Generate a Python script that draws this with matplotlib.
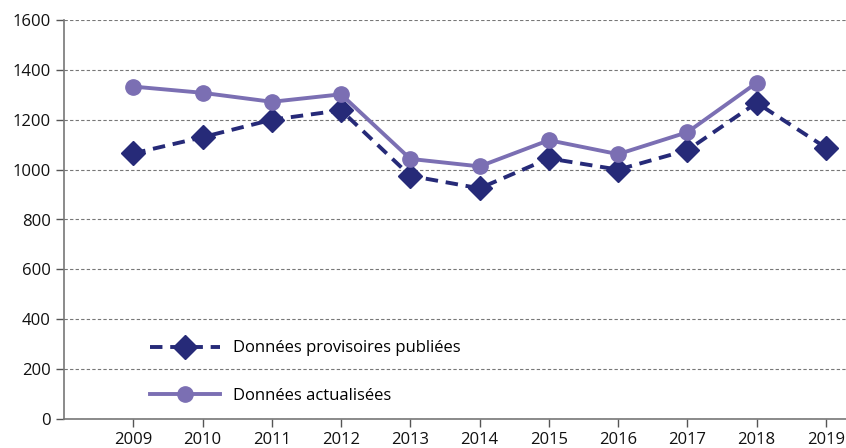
import matplotlib
matplotlib.use("Agg")
import matplotlib.pyplot as plt

years = [2009, 2010, 2011, 2012, 2013, 2014, 2015, 2016, 2017, 2018, 2019]
provisoires = [1065, 1130, 1200, 1238, 975, 925, 1045, 1000, 1078, 1268, 1088]
years_act = [2009, 2010, 2011, 2012, 2013, 2014, 2015, 2016, 2017, 2018]
actualisees = [1333, 1308, 1272, 1302, 1043, 1013, 1118, 1062, 1150, 1348]

navy = "#262a78"
purple = "#7b6fb3"

plt.rcParams["font.family"] = ["Open Sans", "DejaVu Sans"]

fig = plt.figure(figsize=(8.46, 4.48), dpi=100)
ax = fig.add_axes([64 / 846, 1 - 419 / 448, 1 - 64 / 846, 399 / 448])

ax.plot(years, provisoires, color=navy, linewidth=2.8, linestyle=(0, (3.2, 2)),
        marker="D", markersize=12.5, label="Données provisoires publiées", zorder=3)
ax.plot(years_act, actualisees, color=purple, linewidth=2.8,
        marker="o", markersize=11, label="Données actualisées", zorder=4)

ax.set_xlim(2008, 2019.29)
ax.set_ylim(0, 1600)
ax.set_xticks(years)
ax.set_yticks(range(0, 1601, 200))
ax.tick_params(axis="both", labelsize=12, colors="#555555", labelcolor="#111111",
               length=6, width=1)
ax.tick_params(axis="x", pad=3)

ax.grid(axis="y", color="#777777", linestyle=(0, (3, 2)), linewidth=0.8)
ax.set_axisbelow(True)
for s in ["top", "right"]:
    ax.spines[s].set_visible(False)
for s in ["left", "bottom"]:
    ax.spines[s].set_color("#777777")
    ax.spines[s].set_linewidth(1.2)

ax.legend(loc="lower left", bbox_to_anchor=(0.095, 0.008), frameon=False,
          fontsize=12, handlelength=4.2, labelspacing=1.9, borderaxespad=0.3)

fig.savefig("out.png", dpi=100)
